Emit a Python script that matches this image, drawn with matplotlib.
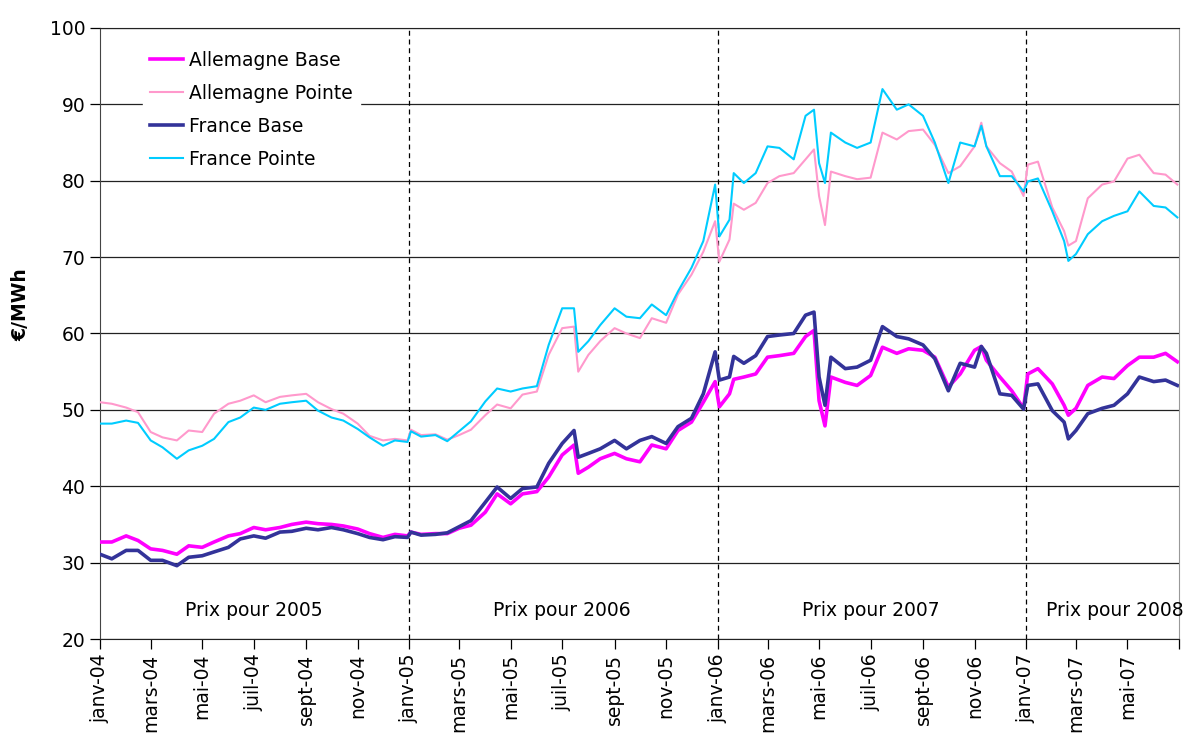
import matplotlib
matplotlib.use("Agg")
import pandas as pd
import matplotlib.pyplot as plt

# readings taken off the chart, roughly twice a month (plus a few spikes)
dates = [
    "2004-01-01", "2004-01-15", "2004-02-01", "2004-02-15", "2004-03-01", "2004-03-15",
    "2004-04-01", "2004-04-15", "2004-05-01", "2004-05-15", "2004-06-01", "2004-06-15",
    "2004-07-01", "2004-07-15", "2004-08-01", "2004-08-15", "2004-09-01", "2004-09-15",
    "2004-10-01", "2004-10-15", "2004-11-01", "2004-11-15", "2004-12-01", "2004-12-15",
    "2004-12-30",
    "2005-01-03", "2005-01-15", "2005-02-01", "2005-02-15", "2005-03-01", "2005-03-15",
    "2005-04-01", "2005-04-15", "2005-05-01", "2005-05-15", "2005-06-01", "2005-06-15",
    "2005-07-01", "2005-07-15", "2005-07-20", "2005-08-01", "2005-08-15", "2005-09-01",
    "2005-09-15", "2005-10-01", "2005-10-15", "2005-11-01", "2005-11-15", "2005-12-01",
    "2005-12-15", "2005-12-29",
    "2006-01-03", "2006-01-15", "2006-01-20", "2006-02-01", "2006-02-15", "2006-03-01",
    "2006-03-15", "2006-04-01", "2006-04-15", "2006-04-25", "2006-05-01", "2006-05-08",
    "2006-05-15", "2006-06-01", "2006-06-15", "2006-07-01", "2006-07-15", "2006-08-01",
    "2006-08-15", "2006-09-01", "2006-09-15", "2006-10-01", "2006-10-15", "2006-11-01",
    "2006-11-09", "2006-11-15", "2006-12-01", "2006-12-15", "2006-12-29",
    "2007-01-03", "2007-01-15", "2007-02-01", "2007-02-15", "2007-02-20", "2007-03-01",
    "2007-03-15", "2007-04-01", "2007-04-15", "2007-05-01", "2007-05-15", "2007-06-01",
    "2007-06-15", "2007-06-29",
]

allemagne_base = [
    32.7, 32.7, 33.5, 32.9, 31.8, 31.6, 31.1, 32.2, 32.0, 32.7, 33.5, 33.8,
    34.6, 34.3, 34.6, 35.0, 35.3, 35.1, 35.0, 34.8, 34.4, 33.8, 33.3, 33.7, 33.5,
    34.0, 33.7, 33.8, 33.8, 34.5, 34.9, 36.6, 39.0, 37.7, 39.0, 39.3, 41.2,
    44.1, 45.4, 41.7, 42.5, 43.6, 44.3, 43.6, 43.2, 45.4, 44.9, 47.3, 48.4, 51.0, 53.7,
    50.4, 52.1, 54.0, 54.3, 54.7, 56.9, 57.1, 57.4, 59.6, 60.4, 51.2, 47.9,
    54.3, 53.6, 53.2, 54.5, 58.2, 57.4, 58.0, 57.8, 56.9, 53.0, 54.7, 57.8,
    58.3, 56.5, 54.3, 52.5, 50.2,
    54.7, 55.4, 53.4, 50.6, 49.3, 50.2, 53.2, 54.3, 54.1, 55.8, 56.9, 56.9, 57.4, 56.3,
]

allemagne_pointe = [
    51.0, 50.8, 50.3, 49.7, 47.1, 46.4, 46.0, 47.3, 47.1, 49.5, 50.8, 51.2,
    51.9, 51.0, 51.7, 51.9, 52.1, 51.0, 50.1, 49.5, 48.2, 46.6, 46.0, 46.2, 46.0,
    47.4, 46.7, 46.8, 46.1, 46.7, 47.4, 49.3, 50.7, 50.2, 52.0, 52.4, 57.2,
    60.7, 60.9, 55.0, 57.2, 59.0, 60.7, 60.0, 59.4, 62.0, 61.4, 65.1, 67.7, 70.7, 74.7,
    69.4, 72.3, 77.0, 76.2, 77.1, 79.7, 80.6, 81.0, 82.8, 84.1, 78.0, 74.2,
    81.2, 80.6, 80.2, 80.4, 86.3, 85.4, 86.5, 86.7, 84.7, 81.0, 81.9, 84.5,
    87.6, 84.5, 82.3, 81.2, 78.0,
    82.1, 82.5, 76.5, 73.4, 71.5, 72.1, 77.7, 79.5, 79.9, 82.9, 83.4, 81.0, 80.8, 79.5,
]

france_base = [
    31.1, 30.5, 31.6, 31.6, 30.3, 30.3, 29.6, 30.7, 30.9, 31.4, 32.0, 33.1,
    33.5, 33.2, 34.0, 34.1, 34.5, 34.3, 34.6, 34.3, 33.8, 33.3, 33.0, 33.4, 33.3,
    34.0, 33.6, 33.7, 33.9, 34.7, 35.5, 37.9, 39.9, 38.4, 39.7, 39.9, 43.0,
    45.6, 47.3, 43.8, 44.3, 44.9, 46.0, 44.9, 46.0, 46.5, 45.6, 47.8, 48.9, 52.1, 57.6,
    53.9, 54.3, 57.0, 56.1, 57.1, 59.6, 59.8, 60.0, 62.4, 62.8, 54.3, 50.6,
    56.9, 55.4, 55.6, 56.5, 60.9, 59.6, 59.3, 58.5, 56.7, 52.5, 56.1, 55.6,
    58.3, 57.4, 52.1, 51.9, 50.1,
    53.2, 53.4, 49.9, 48.4, 46.2, 47.3, 49.5, 50.2, 50.6, 52.1, 54.3, 53.7, 53.9, 53.2,
]

france_pointe = [
    48.2, 48.2, 48.6, 48.3, 46.0, 45.1, 43.6, 44.7, 45.3, 46.2, 48.4, 49.0,
    50.3, 50.0, 50.8, 51.0, 51.2, 49.9, 49.0, 48.6, 47.5, 46.4, 45.3, 46.0, 45.8,
    47.2, 46.5, 46.7, 45.9, 47.2, 48.5, 51.1, 52.8, 52.4, 52.8, 53.1, 58.5,
    63.3, 63.3, 57.6, 59.0, 61.1, 63.3, 62.2, 62.0, 63.8, 62.4, 65.5, 68.6, 72.1, 79.5,
    72.7, 74.9, 81.0, 79.7, 81.0, 84.5, 84.3, 82.8, 88.5, 89.3, 82.3, 79.7,
    86.3, 85.0, 84.3, 85.0, 92.0, 89.3, 90.0, 88.5, 85.0, 79.7, 85.0, 84.5,
    87.2, 84.5, 80.6, 80.6, 78.6,
    79.9, 80.3, 76.0, 72.1, 69.5, 70.4, 73.0, 74.7, 75.4, 76.0, 78.6, 76.7, 76.5, 75.2,
]

year_breaks = ["2005-01-01", "2006-01-01", "2007-01-01"]
period_labels = ["Prix pour 2005", "Prix pour 2006", "Prix pour 2007", "Prix pour 2008"]
period_label_dates = ["2004-07-01", "2005-07-01", "2006-07-01", "2007-04-16"]
mois = {1: "janv", 3: "mars", 5: "mai", 7: "juil", 9: "sept", 11: "nov"}

x = pd.to_datetime(dates)

fig = plt.figure(figsize=(11.93, 7.42), dpi=100)
ax = fig.add_axes([0.0838, 0.1388, 0.9045, 0.8235])

ax.plot(x, allemagne_base, color="#FF00FF", lw=2.6, label="Allemagne Base", zorder=4)
ax.plot(x, allemagne_pointe, color="#FF99CC", lw=1.5, label="Allemagne Pointe", zorder=3)
ax.plot(x, france_base, color="#333399", lw=2.6, label="France Base", zorder=4)
ax.plot(x, france_pointe, color="#00CCFF", lw=1.5, label="France Pointe", zorder=3)

for d in year_breaks:
    ax.axvline(pd.Timestamp(d), color="black", lw=0.9, linestyle=(0, (4, 3)), zorder=2)

for lab, d in zip(period_labels, period_label_dates):
    ax.text(pd.Timestamp(d), 23.7, lab, ha="center", va="center", fontsize=13.5)

ax.set_ylim(20, 100)
ax.set_yticks(range(20, 101, 10))
ax.grid(axis="y", color="#222222", lw=0.9, zorder=1)
ax.set_xlim(pd.Timestamp("2004-01-01"), pd.Timestamp("2007-07-01"))

ticks = pd.date_range("2004-01-01", "2007-07-01", freq="2MS")
ax.set_xticks(ticks)
labels = [mois[t.month] + "-" + t.strftime("%y") for t in ticks]
labels[-1] = ""
ax.set_xticklabels(labels, rotation=90)
ax.tick_params(axis="both", labelsize=13.5, direction="out", length=7, width=0.9)

ax.spines["top"].set_color("#222222")
ax.spines["right"].set_color("#999999")
ax.spines["left"].set_color("#444444")
ax.spines["bottom"].set_color("#222222")

ax.set_ylabel("€/MWh", fontsize=13.5, fontweight="bold")
ax.yaxis.set_label_coords(-0.065, 0.547)

leg = ax.legend(loc="upper left", bbox_to_anchor=(0.031, 0.99), fontsize=13.5,
                frameon=True, fancybox=False, edgecolor="white", facecolor="white",
                framealpha=1, handlelength=1.75, handletextpad=0.3, labelspacing=0.74,
                borderpad=0.4)
leg.set_zorder(5)

fig.savefig("out.png", dpi=100)
